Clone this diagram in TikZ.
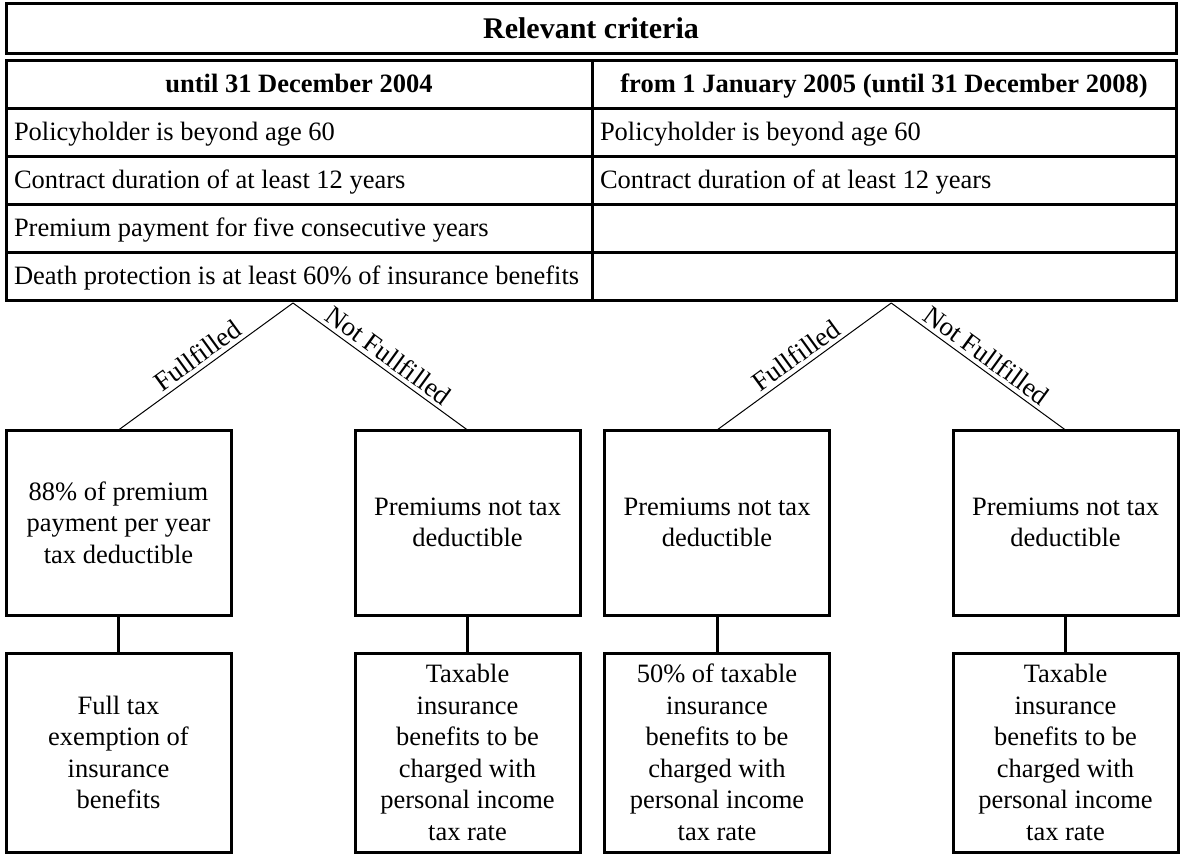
\documentclass[tikz,border=0pt]{standalone}
\usepackage{fontspec}
\setmainfont{Liberation Serif}
\begin{document}
\begin{tikzpicture}[x=1pt,y=-1pt,
  every node/.style={outer sep=0pt},
  frame/.style={draw, line width=3pt},
  txt/.style={font=\fontsize{26.5}{31.5}\selectfont},
  titlebox/.style={frame, minimum width=1170pt, minimum height=50pt, text height=20pt, text depth=0pt, font=\fontsize{30}{34}\selectfont\bfseries},
  cellL/.style={frame, anchor=west, minimum height=48pt, minimum width=586pt},
  cellR/.style={frame, anchor=west, minimum height=48pt, minimum width=584pt},
  rowtext/.style={txt, anchor=west, inner xsep=0pt, text height=17pt, text depth=0pt},
  headL/.style={cellL, text height=17pt, text depth=0pt, font=\fontsize{26.5}{31.5}\selectfont\bfseries},
  headR/.style={cellR, text height=17pt, text depth=0pt, font=\fontsize{26.5}{31.5}\selectfont\bfseries},
  upbox/.style={frame, txt, minimum width=225pt, minimum height=185pt, align=center, inner sep=0pt},
  lowbox/.style={frame, txt, minimum width=225pt, minimum height=199pt, align=center, inner sep=0pt},
  branch/.style={line width=1pt},
  link/.style={line width=3pt},
  lbl/.style={sloped, above, inner sep=4.5pt, font=\fontsize{27}{30}\selectfont}
]
\useasboundingbox (0,0) rectangle (1180,855);

% title
\node[titlebox] (title) at (591,28) {Relevant criteria};

% table
\node[headL, anchor=center] (h1) at (299,84) {until 31 December 2004};
\node[headR, anchor=center] (h2) at (884,84) {from 1 January 2005 (until 31 December 2008)};
\node[cellL] (l1) at (6,132) {};
\node[cellR] (r1) at (592,132) {};
\node[cellL] (l2) at (6,180) {};
\node[cellR] (r2) at (592,180) {};
\node[cellL] (l3) at (6,228) {};
\node[cellR] (r3) at (592,228) {};
\node[cellL] (l4) at (6,276) {};
\node[cellR] (r4) at (592,276) {};
\node[rowtext] (l1t) at ([xshift=8pt]l1.west) {Policyholder is beyond age 60};
\node[rowtext] (r1t) at ([xshift=8pt]r1.west) {Policyholder is beyond age 60};
\node[rowtext] (l2t) at ([xshift=8pt]l2.west) {Contract duration of at least 12 years};
\node[rowtext] (r2t) at ([xshift=8pt]r2.west) {Contract duration of at least 12 years};
\node[rowtext] (l3t) at ([xshift=8pt]l3.west) {Premium payment for five consecutive years};
\node[rowtext] (l4t) at ([xshift=8pt]l4.west) {Death protection is at least 60\% of insurance benefits};

% upper boxes
\node[upbox] (b1) at (118.5,522.5) {88\% of premium\\payment per year\\tax deductible};
\node[upbox] (b2) at (467.5,522.5) {Premiums not tax\\deductible};
\node[upbox] (b3) at (717,522.5) {Premiums not tax\\deductible};
\node[upbox] (b4) at (1065.5,522.5) {Premiums not tax\\deductible};

% lower boxes
\node[lowbox] (c1) at (118.5,752.5) {Full tax\\exemption of\\insurance\\benefits};
\node[lowbox] (c2) at (467.5,752.5) {Taxable\\insurance\\benefits to be\\charged with\\personal income\\tax rate};
\node[lowbox] (c3) at (717,752.5) {50\% of taxable\\insurance\\benefits to be\\charged with\\personal income\\tax rate};
\node[lowbox] (c4) at (1065.5,752.5) {Taxable\\insurance\\benefits to be\\charged with\\personal income\\tax rate};

% apexes
\coordinate (a1) at (293,303);
\coordinate (a2) at (891.25,303);

% branches
\draw[branch] (b1.north) -- node[lbl] {Fullfilled} (a1);
\draw[branch] (a1) -- node[lbl] {Not Fullfilled} (b2.north);
\draw[branch] (b3.north) -- node[lbl] {Fullfilled} (a2);
\draw[branch] (a2) -- node[lbl] {Not Fullfilled} (b4.north);

% links
\draw[link] (b1) -- (c1);
\draw[link] (b2) -- (c2);
\draw[link] (b3) -- (c3);
\draw[link] (b4) -- (c4);
\end{tikzpicture}
\end{document}
